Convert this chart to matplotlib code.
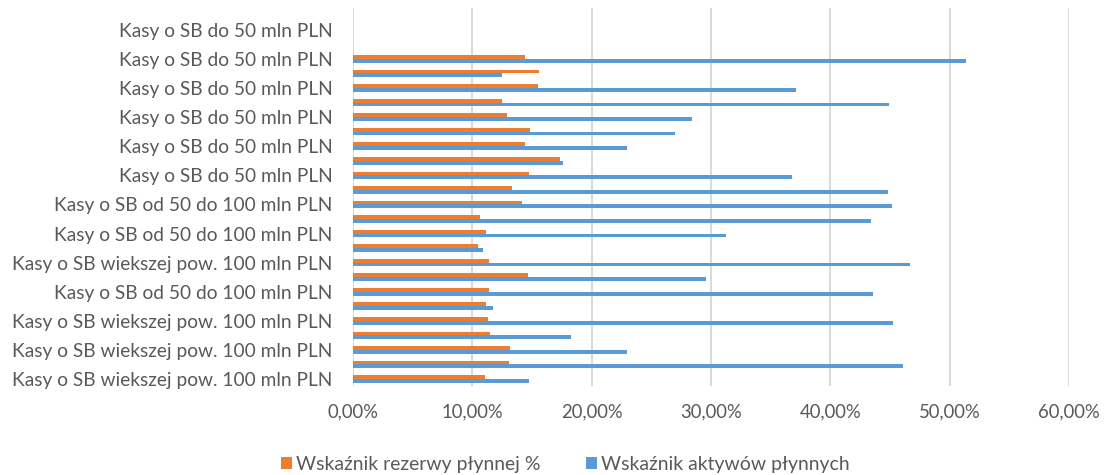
import numpy as np
import matplotlib
matplotlib.use("Agg")
import matplotlib.pyplot as plt
from matplotlib.ticker import FuncFormatter
from matplotlib.patches import Patch

FONT = ['Lato', 'DejaVu Sans']
plt.rcParams['font.family'] = FONT

# Categories numbered bottom (1) to top (26); only odd ones carry a visible label
tick_positions = [1, 3, 5, 7, 9, 11, 13, 15, 17, 19, 21, 23, 25]
tick_labels = [
    "Kasy o SB wiekszej pow. 100 mln PLN",
    "Kasy o SB wiekszej pow. 100 mln PLN",
    "Kasy o SB wiekszej pow. 100 mln PLN",
    "Kasy o SB od 50 do 100 mln PLN",
    "Kasy o SB wiekszej pow. 100 mln PLN",
    "Kasy o SB od 50 do 100 mln PLN",
    "Kasy o SB od 50 do 100 mln PLN",
    "Kasy o SB do 50 mln PLN",
    "Kasy o SB do 50 mln PLN",
    "Kasy o SB do 50 mln PLN",
    "Kasy o SB do 50 mln PLN",
    "Kasy o SB do 50 mln PLN",
    "Kasy o SB do 50 mln PLN",
]
n_categories = 26

# values (%) bottom to top; top 3 categories are empty
rezerwa = [11.09, 13.07, 13.16, 11.45, 11.29, 11.17, 11.43, 14.69, 11.43, 10.45,
           11.15, 10.67, 14.19, 13.30, 14.78, 17.38, 14.41, 14.86, 12.88, 12.49,
           15.53, 15.59, 14.44, np.nan, np.nan, np.nan]
aktywa = [14.75, 46.10, 22.97, 18.30, 45.26, 11.73, 43.61, 29.61, 46.69, 10.90,
          31.27, 43.42, 45.18, 44.87, 36.80, 17.57, 22.94, 26.96, 28.38, 44.95,
          37.13, 12.49, 51.38, np.nan, np.nan, np.nan]

series_names = ["Wskaźnik rezerwy płynnej %", "Wskaźnik aktywów płynnych"]
colors = ["#ED7D31", "#5B9BD5"]
text_color = '#595959'

W, H = 1104, 475
fig = plt.figure(figsize=(W / 100, H / 100), dpi=100)
renderer = fig.canvas.get_renderer()


def fit_size(s, target_px):
    t = fig.text(0, 0, s, fontsize=10)
    w = t.get_window_extent(renderer).width
    t.remove()
    return 10.0 * target_px / w


ylab_size = fit_size("Kasy o SB wiekszej pow. 100 mln PLN", 320)
xlab_size = fit_size("10,00%", 62)
leg_size = fit_size(series_names[0], 244)

ax = fig.add_axes([353 / W, 1 - 386.3 / H, (1069 - 353) / W, (386.3 - 8) / H])

y = np.arange(1, n_categories + 1)
bh = 0.26
ax.barh(y + bh / 2, rezerwa, height=bh, color=colors[0], zorder=3)
ax.barh(y - bh / 2, aktywa, height=bh, color=colors[1], zorder=3)

ax.set_xlim(0, 60)
ax.set_ylim(0.5, n_categories + 0.5)
ax.set_xticks(np.arange(0, 61, 10))
ax.xaxis.set_major_formatter(FuncFormatter(lambda v, p: f"{v:.2f}%".replace('.', ',')))
ax.set_yticks(tick_positions)
ax.set_yticklabels(tick_labels)

ax.grid(axis='x', color='#D9D9D9', linewidth=1.4, zorder=0)
ax.grid(axis='y', visible=False)
for s in ax.spines.values():
    s.set_visible(False)
ax.tick_params(axis='both', length=0, colors=text_color)
ax.tick_params(axis='y', pad=14.9, labelsize=ylab_size)
ax.tick_params(axis='x', pad=12.5, labelsize=xlab_size)

handles = [Patch(facecolor=c, edgecolor='none') for c in colors]
sq_pt = 11.6 * 0.72
fig.legend(handles, series_names, loc='center', bbox_to_anchor=(565 / W, 1 - 464.5 / H),
           ncol=2, frameon=False, fontsize=leg_size,
           handlelength=sq_pt / leg_size, handleheight=sq_pt / leg_size,
           handletextpad=2.4 / leg_size, columnspacing=32.8 / leg_size,
           labelcolor=text_color, borderpad=0, borderaxespad=0)

fig.savefig("out.png", dpi=100)
